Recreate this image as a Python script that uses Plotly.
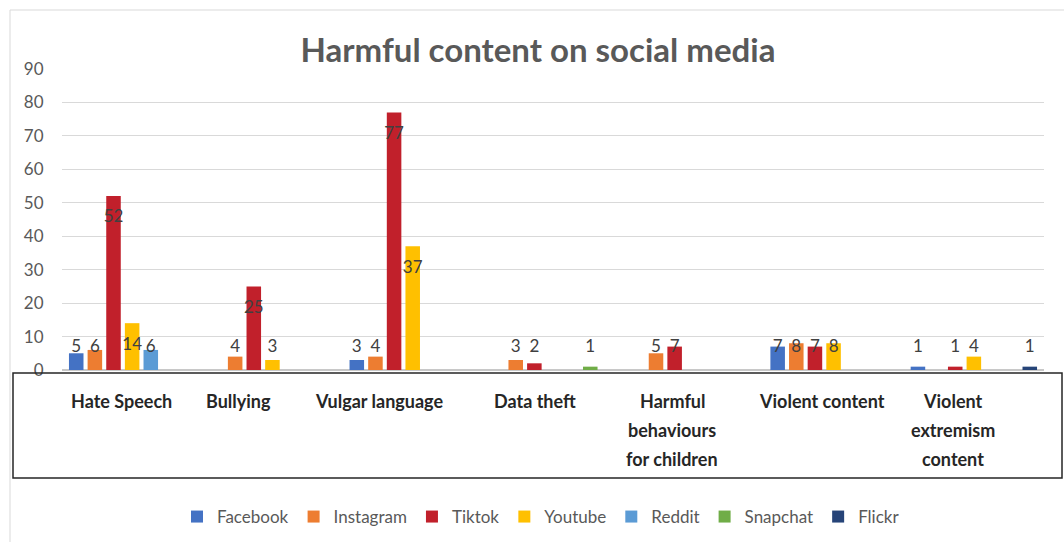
import plotly.graph_objects as go

categories = ["Hate Speech", "Bullying", "Vulgar language", "Data theft",
              "Harmful behaviours for children", "Violent content",
              "Violent extremism content"]
label_lines = [["Hate Speech"], ["Bullying"], ["Vulgar language"], ["Data theft"],
               ["Harmful", "behaviours", "for children"], ["Violent content"],
               ["Violent", "extremism", "content"]]

facebook = [5, None, 3, None, None, 7, 1]
instagram = [6, 4, 4, 3, 5, 8, None]
tiktok = [52, 25, 77, 2, 7, 7, 1]
youtube = [14, 3, 37, None, None, 8, 4]
reddit = [6, None, None, None, None, None, None]
snapchat = [None, None, None, 1, None, None, None]
flickr = [None, None, None, None, None, None, 1]

series = [("Facebook", facebook, "#4472C4"),
          ("Instagram", instagram, "#ED7D31"),
          ("Tiktok", tiktok, "#C1202B"),
          ("Youtube", youtube, "#FFC000"),
          ("Reddit", reddit, "#5B9BD5"),
          ("Snapchat", snapchat, "#70AD47"),
          ("Flickr", flickr, "#264478")]

# pixel-ish layout constants
W, H = 1064, 542
L, R, T, B = 62, 20, 69, 172
PW = W - L - R
PH = H - T - B
FONT = "Lato"

def px_x(p):
    return (p - L) / PW

def px_y(p):
    return (H - B - p) / PH

fig = go.Figure()
for name, vals, col in series:
    fig.add_trace(go.Bar(x=categories, y=vals, name=name, marker_color=col,
                         marker_line_width=0, hoverinfo="skip"))

# data labels (inside end, kept above the axis) via grouped text scatter
LBL_OFF = 6.6
for name, vals, col in series:
    ys = [None if v is None else max(v - LBL_OFF, LBL_OFF) for v in vals]
    txt = ["" if v is None else str(v) for v in vals]
    fig.add_trace(go.Scatter(x=categories, y=ys, text=txt, mode="text",
                             textposition="middle center",
                             textfont=dict(family=FONT, size=17, color="#404040"),
                             showlegend=False, hoverinfo="skip"))

# category labels drawn in the boxed table under the axis
label_centers = [121, 238, 379, 535, 672, 822, 953]
line_y = [401, 430, 459]
annotations = []
for cx, lines in zip(label_centers, label_lines):
    for i, ln in enumerate(lines):
        annotations.append(dict(x=px_x(cx), y=px_y(line_y[i]), xref="paper", yref="paper",
                                text=ln, showarrow=False, xanchor="center", yanchor="middle",
                                font=dict(family=FONT, size=18, color="#262626", weight="bold")))

shapes = [
    dict(type="rect", xref="paper", yref="paper", x0=px_x(10), x1=px_x(1075),
         y0=px_y(560), y1=px_y(10), line=dict(color="#D9D9D9", width=1),
         fillcolor="rgba(0,0,0,0)", layer="below"),
    dict(type="rect", xref="paper", yref="paper", x0=px_x(13), x1=px_x(1062),
         y0=px_y(478), y1=px_y(373), line=dict(color="#262626", width=1.5),
         fillcolor="rgba(0,0,0,0)"),
]

fig.update_layout(
    width=W, height=H,
    margin=dict(l=L, r=R, t=T, b=B, autoexpand=False),
    paper_bgcolor="white", plot_bgcolor="white",
    barmode="group", bargap=0.07, bargroupgap=0.22,
    scattermode="group", scattergap=0.07,
    title=dict(text="Harmful content on social media", x=538 / W, xanchor="center",
               y=1 - 50 / H, yanchor="middle",
               font=dict(family=FONT, size=33, color="#595959", weight="bold")),
    xaxis=dict(showticklabels=False, showgrid=False, zeroline=False, showline=False,
               ticks="", range=[-0.5, 6.5]),
    yaxis=dict(range=[0, 90], dtick=10, showgrid=True, gridcolor="#D9D9D9", gridwidth=1,
               zeroline=True, zerolinecolor="#C8C8C8", zerolinewidth=2,
               ticks="outside", ticklen=14, tickcolor="rgba(0,0,0,0)",
               tickfont=dict(family=FONT, size=17, color="#595959")),
    legend=dict(orientation="h", x=px_x(541), xanchor="center", y=px_y(517), yanchor="middle",
                font=dict(family=FONT, size=17, color="#595959"), itemwidth=30,
                traceorder="normal"),
    annotations=annotations,
    shapes=shapes,
)

fig.write_html("out.html")
